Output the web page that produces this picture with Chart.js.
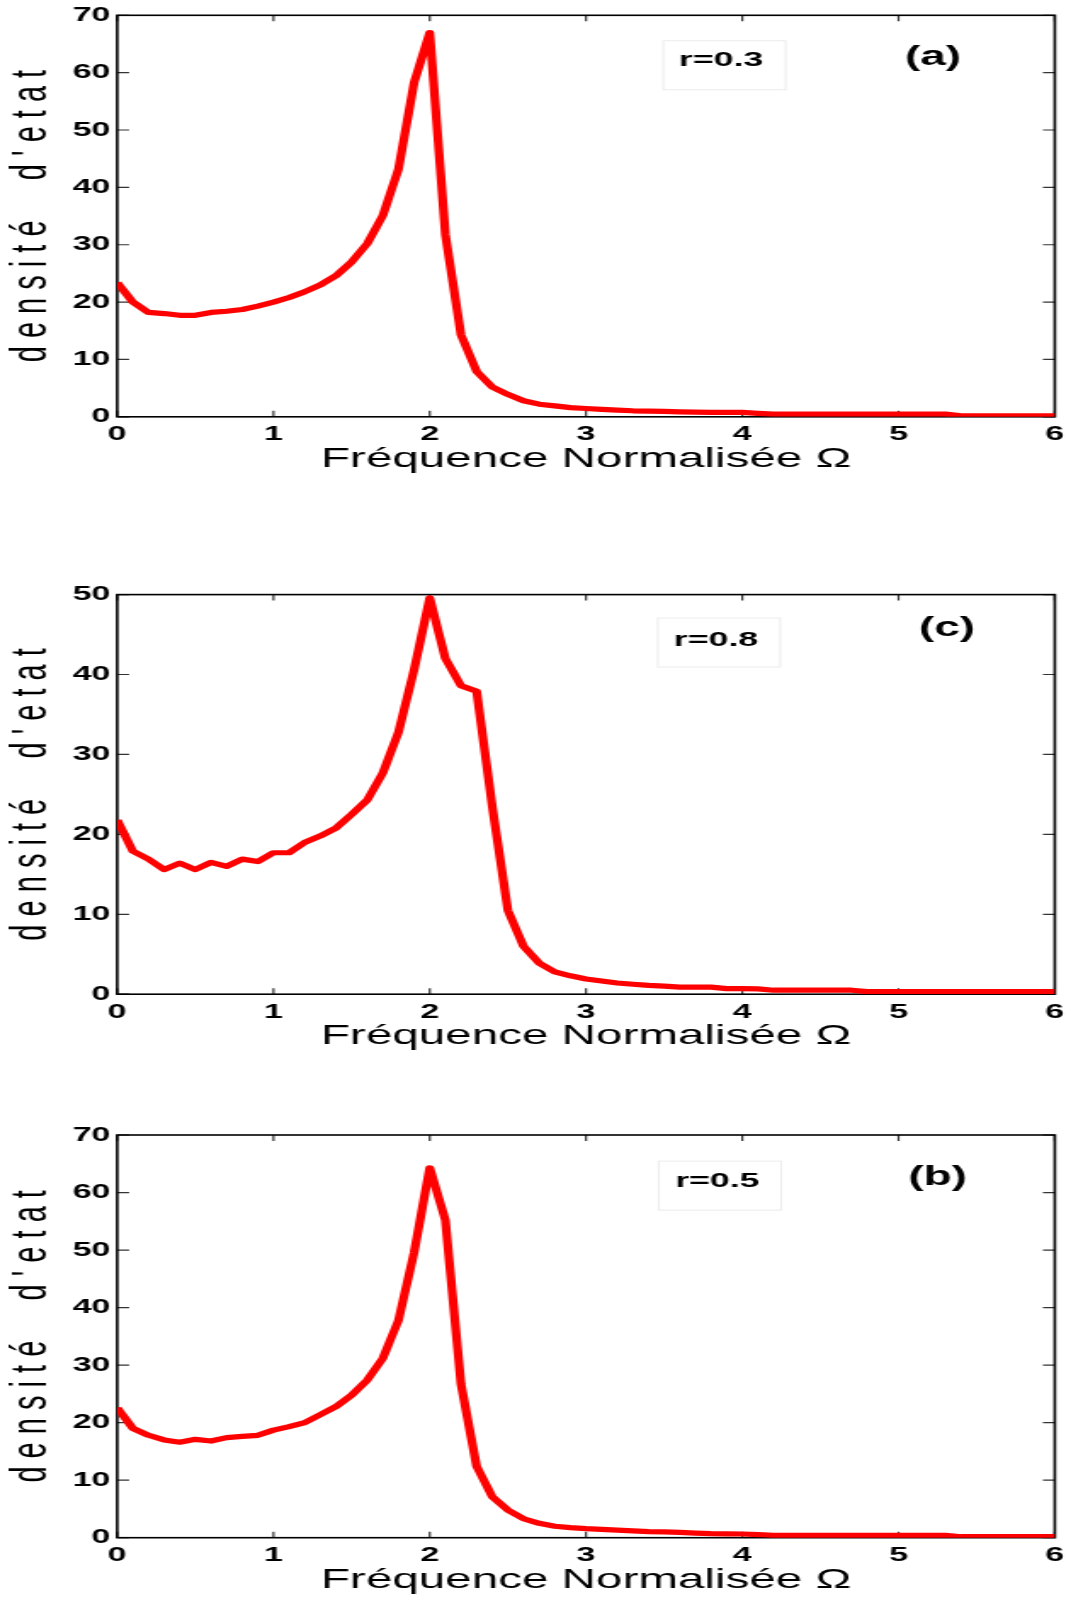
<!DOCTYPE html>
<html>
<head>
<meta charset="utf-8">
<script src="https://cdn.jsdelivr.net/npm/chart.js@4.4.1/dist/chart.umd.min.js"></script>
<style>
  html, body { margin: 0; padding: 0; background: #fff; }
  body { width: 1066px; height: 1598px; position: relative; overflow: hidden; }
  canvas { position: absolute; left: 0; }
</style>
</head>
<body>
<canvas id="chart-a"></canvas>
<canvas id="chart-c"></canvas>
<canvas id="chart-b"></canvas>
<script>
// fréquence normalisée (axe x)
const omega = [0, 0.1, 0.2, 0.3, 0.4, 0.5, 0.6, 0.7, 0.8, 0.9,
  1, 1.1, 1.2, 1.3, 1.4, 1.5, 1.6, 1.7, 1.8, 1.9,
  2, 2.1, 2.2, 2.3, 2.4, 2.5, 2.6, 2.7, 2.8, 2.9,
  3, 3.1, 3.2, 3.3, 3.4, 3.5, 3.6, 3.7, 3.8, 3.9,
  4, 4.1, 4.2, 4.3, 4.4, 4.5, 4.6, 4.7, 4.8, 4.9,
  5, 5.1, 5.2, 5.3, 5.4, 5.5, 5.6, 5.7, 5.8, 5.9, 6];

// densité d'état, r = 0.3  (a)
const dosA = [23.4, 20.0, 18.2, 18.0, 17.7, 17.7, 18.2, 18.4, 18.7, 19.3,
  20.0, 20.8, 21.8, 23.0, 24.6, 27.0, 30.2, 35.1, 43.2, 58.3,
  67.0, 31.8, 14.3, 7.9, 5.2, 3.9, 2.8, 2.2, 1.9, 1.6,
  1.45, 1.3, 1.16, 1.05, 1.0, 0.93, 0.87, 0.8, 0.76, 0.76,
  0.76, 0.6, 0.47, 0.47, 0.47, 0.47, 0.47, 0.47, 0.47, 0.47,
  0.47, 0.47, 0.47, 0.47, 0.17, 0.17, 0.17, 0.17, 0.17, 0.17, 0.17];

// densité d'état, r = 0.8  (c)
const dosC = [21.8, 17.9, 16.9, 15.6, 16.4, 15.6, 16.5, 16.0, 16.9, 16.6,
  17.7, 17.7, 19.0, 19.8, 20.8, 22.5, 24.3, 27.7, 32.8, 40.6,
  49.6, 42.0, 38.6, 37.9, 23.5, 10.5, 6.0, 3.9, 2.8, 2.3,
  1.9, 1.65, 1.4, 1.25, 1.1, 1.0, 0.88, 0.88, 0.88, 0.7,
  0.7, 0.67, 0.5, 0.5, 0.5, 0.5, 0.5, 0.5, 0.33, 0.33,
  0.33, 0.33, 0.33, 0.33, 0.33, 0.33, 0.33, 0.33, 0.33, 0.33, 0.33];

// densité d'état, r = 0.5  (b)
const dosB = [22.6, 19.0, 17.8, 17.0, 16.6, 17.1, 16.8, 17.4, 17.6, 17.8,
  18.7, 19.3, 20.0, 21.4, 22.8, 24.8, 27.4, 31.2, 37.8, 49.6,
  64.3, 55.2, 26.7, 12.4, 7.1, 4.8, 3.3, 2.5, 2.0, 1.75,
  1.57, 1.45, 1.33, 1.2, 1.05, 1.0, 0.93, 0.8, 0.7, 0.67,
  0.64, 0.55, 0.4, 0.4, 0.4, 0.4, 0.4, 0.4, 0.4, 0.4,
  0.4, 0.4, 0.4, 0.4, 0.17, 0.17, 0.17, 0.17, 0.17, 0.17, 0.17];

const xTicks = [0, 1, 2, 3, 4, 5, 6];
const yTicks70 = [0, 10, 20, 30, 40, 50, 60, 70];
const yTicks50 = [0, 10, 20, 30, 40, 50];

const xTitle = 'Fréquence Normalisée Ω';
const yTitle = 'd e n s i t é     d \' e t a t';

// la figure d'origine est étirée horizontalement : on dessine sur 627px et on étire à 1066px
const W = 627;
const SX = 1066 / W;
const FONT = '"Liberation Sans", Arial, Helvetica, sans-serif';
const PLOT_LEFT = 117.2, PLOT_RIGHT = 1054.8;
const X_AXIS_H = 59;

const panels = [
  { id: 'chart-a', values: dosA, yTicks: yTicks70, ymax: 70, top: 15.3, bottom: 416.8,
    label: 'r=0.3', labelAt: [3.864, 62.2], boxAt: [3.886, 61.3], tag: '(a)', tagAt: [5.22, 62.7] },
  { id: 'chart-c', values: dosC, yTicks: yTicks50, ymax: 50, top: 594.6, bottom: 994.2,
    label: 'r=0.8', labelAt: [3.832, 44.3], boxAt: [3.851, 44.0], tag: '(c)', tagAt: [5.31, 45.7] },
  { id: 'chart-b', values: dosB, yTicks: yTicks70, ymax: 70, top: 1135, bottom: 1537.7,
    label: 'r=0.5', labelAt: [3.841, 62.0], boxAt: [3.857, 61.2], tag: '(b)', tagAt: [5.25, 62.6] }
];

// cadre + graduations vers l'intérieur, façon MATLAB
const framePlugin = {
  id: 'frame',
  beforeDatasetsDraw(chart) {
    const { ctx, chartArea: a, scales: { x, y } } = chart;
    ctx.save();
    ctx.strokeStyle = '#333';
    ctx.lineWidth = 1.2;
    ctx.beginPath();
    xTicks.forEach(v => {
      const px = x.getPixelForValue(v);
      ctx.moveTo(px, a.bottom); ctx.lineTo(px, a.bottom - 6);
      ctx.moveTo(px, a.top); ctx.lineTo(px, a.top + 6);
    });
    y.ticks.forEach(t => {
      const py = y.getPixelForValue(t.value);
      ctx.moveTo(a.left, py); ctx.lineTo(a.left + 7, py);
      ctx.moveTo(a.right, py); ctx.lineTo(a.right - 7, py);
    });
    ctx.stroke();
    ctx.strokeStyle = '#000';
    ctx.lineWidth = 1.6;
    ctx.strokeRect(a.left, a.top, a.right - a.left, a.bottom - a.top);
    ctx.restore();
  },
  afterDatasetsDraw(chart, args, opts) {
    const { ctx, scales: { x, y } } = chart;
    ctx.save();
    // boîte légère autour de r=...
    const bx = x.getPixelForValue(opts.boxAt[0]);
    const by = y.getPixelForValue(opts.boxAt[1]);
    ctx.strokeStyle = '#ebebeb';
    ctx.lineWidth = 1;
    ctx.strokeRect(bx - 36, by - 24.5, 72, 49);
    ctx.fillStyle = '#000';
    ctx.textAlign = 'center';
    ctx.textBaseline = 'middle';
    ctx.font = 'bold 21px ' + FONT;
    ctx.fillText(opts.label, x.getPixelForValue(opts.labelAt[0]), y.getPixelForValue(opts.labelAt[1]));
    ctx.font = 'bold 27px ' + FONT;
    ctx.fillText(opts.tag, x.getPixelForValue(opts.tagAt[0]), y.getPixelForValue(opts.tagAt[1]));
    ctx.restore();
  }
};

panels.forEach(p => {
  const el = document.getElementById(p.id);
  const canvasTop = Math.floor(p.top - 14);
  const h = Math.ceil(p.bottom + X_AXIS_H - canvasTop);
  el.width = W;
  el.height = h;
  el.style.top = canvasTop + 'px';
  el.style.width = '1066px';
  el.style.height = h + 'px';

  const padTop = p.top - canvasTop;
  const padBottom = h - (p.bottom - canvasTop) - X_AXIS_H;

  new Chart(el, {
    type: 'line',
    data: {
      datasets: [{
        data: omega.map((o, i) => ({ x: o, y: p.values[i] })),
        borderColor: '#ff0000',
        borderWidth: 5.2,
        borderJoinStyle: 'round',
        pointRadius: 0,
        tension: 0,
        fill: false
      }]
    },
    options: {
      responsive: false,
      animation: false,
      devicePixelRatio: 1,
      events: [],
      layout: { padding: { top: padTop, bottom: padBottom, left: 0, right: W - PLOT_RIGHT / SX } },
      plugins: {
        legend: { display: false },
        tooltip: { enabled: false },
        frame: { label: p.label, labelAt: p.labelAt, boxAt: p.boxAt, tag: p.tag, tagAt: p.tagAt }
      },
      scales: {
        x: {
          type: 'linear', min: 0, max: 6,
          afterBuildTicks: s => { s.ticks = xTicks.map(v => ({ value: v })); },
          afterFit: s => { s.height = X_AXIS_H; s.paddingLeft = 0; s.paddingRight = 0; },
          grid: { display: false, drawTicks: false },
          border: { display: false },
          ticks: { color: '#000', font: { family: FONT, size: 20, weight: 'bold' }, padding: 6, maxRotation: 0, autoSkip: false },
          title: { display: true, text: xTitle, color: '#000', font: { family: FONT, size: 28 }, padding: { top: 0, bottom: 0 } }
        },
        y: {
          type: 'linear', min: 0, max: p.ymax,
          afterBuildTicks: s => { s.ticks = p.yTicks.map(v => ({ value: v })); },
          afterFit: s => { s.width = PLOT_LEFT / SX; s.paddingTop = 0; s.paddingBottom = 0; },
          grid: { display: false, drawTicks: false },
          border: { display: false },
          ticks: { color: '#000', font: { family: FONT, size: 20, weight: 'bold' }, padding: 4 },
          title: { display: true, text: yTitle, color: '#000', font: { family: FONT, size: 29 }, padding: { top: 2, bottom: 0 } }
        }
      }
    },
    plugins: [framePlugin]
  });
});
</script>
</body>
</html>
